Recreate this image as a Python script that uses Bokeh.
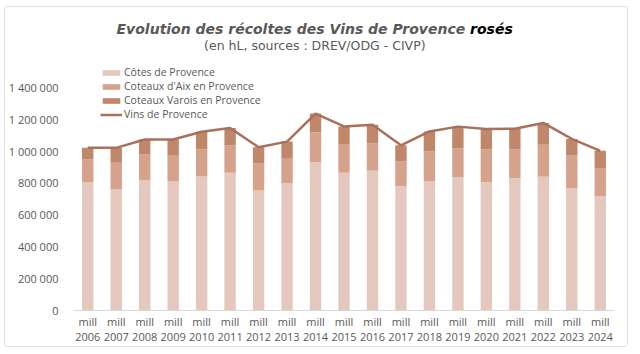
from bokeh.plotting import figure
from bokeh.models import Label, FixedTicker, Legend
from bokeh.embed import file_html
from bokeh.resources import INLINE

years = [str(y) for y in range(2006, 2025)]
categories = ["mill\n" + y for y in years]
cotes_de_provence = [806000, 762000, 816000, 810000, 841000, 864000, 752000, 799000, 930000, 864000,
                     877000, 779000, 812000, 835000, 804000, 830000, 839000, 768000, 718000]
coteaux_aix = [141000, 164000, 162000, 160000, 170000, 170000, 170000, 152000, 187000, 176000,
               172000, 157000, 185000, 182000, 207000, 179000, 200000, 204000, 175000]
coteaux_varois = [73000, 94000, 94000, 102000, 110000, 110000, 102000, 108000, 118000, 114000,
                  116000, 100000, 126000, 136000, 127000, 131000, 137000, 104000, 108000]
vins_de_provence = [1020000, 1020000, 1072000, 1072000, 1121000, 1144000, 1024000, 1059000, 1235000, 1154000,
                    1165000, 1036000, 1123000, 1153000, 1138000, 1140000, 1176000, 1076000, 1001000]
y_ticks = [0, 200000, 400000, 600000, 800000, 1000000, 1200000, 1400000]
y_tick_labels = ["0", "200 000", "400 000", "600 000", "800 000", "1 000 000", "1 200 000", "1 400 000"]
series_names = ["Côtes de Provence", "Coteaux d'Aix en Provence", "Coteaux Varois en Provence"]
line_name = "Vins de Provence"
title_main = "Evolution des récoltes des Vins de Provence "
title_bold = "rosés"
subtitle = "(en hL, sources : DREV/ODG - CIVP)"

FONT = "Open Sans"
TFONT = "DejaVu Sans"
GREY = "#595959"
colors = ["#e5c8bd", "#d5a38c", "#c0876b"]
line_color = "#a9705a"

TOP = 6      # frame top (page px)
BOTTOM = 311 # frame bottom (page px)
YMAX = 1900000

p = figure(x_range=categories, y_range=(0, YMAX), width=624, height=341,
           output_backend="svg", toolbar_location=None,
           min_border_left=62, min_border_right=15, min_border_top=0, min_border_bottom=38)
p.margin = (6, 0, 0, 4)
p.styles = {"border": "1px solid #dedede", "border-radius": "3px"}
p.outline_line_color = None
p.xgrid.grid_line_color = None
p.ygrid.grid_line_color = None
p.background_fill_color = "white"
p.border_fill_color = "white"

data = dict(x=categories, c=cotes_de_provence, a=coteaux_aix, v=coteaux_varois, t=vins_de_provence)
bars = p.vbar_stack(["c", "a", "v"], x="x", width=0.4, source=data, color=colors, line_color=None)
ln = p.line(x="x", y="t", source=data, line_color=line_color, line_width=2.5)

p.yaxis.ticker = FixedTicker(ticks=y_ticks)
p.yaxis.major_label_overrides = {t: l for t, l in zip(y_ticks, y_tick_labels)}
p.yaxis.axis_line_color = None
p.yaxis.major_tick_line_color = None
p.yaxis.minor_tick_line_color = None
p.yaxis.major_label_standoff = 9
p.yaxis.major_label_text_font = FONT
p.yaxis.major_label_text_font_size = "11px"
p.yaxis.major_label_text_color = GREY

p.xaxis.axis_line_color = "#d9d9d9"
p.xaxis.major_tick_line_color = None
p.xaxis.major_label_standoff = -3
p.xaxis.major_label_text_font = FONT
p.xaxis.major_label_text_font_size = "11px"
p.xaxis.major_label_text_color = GREY
p.xaxis.major_label_text_line_height = 1.0

items = [(series_names[i], [bars[i]]) for i in range(3)] + [(line_name, [ln])]
legend = Legend(items=items, location=(27, 189), orientation="vertical",
                glyph_width=22, glyph_height=7, label_height=14, spacing=0, padding=0, margin=0,
                label_standoff=2, label_text_font=FONT, label_text_font_size="10.5px",
                label_text_color=GREY, border_line_color=None, background_fill_alpha=0)
p.add_layout(legend)

def yv(ypx):
    return (BOTTOM - ypx) * YMAX / float(BOTTOM - TOP)

def xv(xpx):
    return (xpx - 67) * 19 / 547.0

p.add_layout(Label(x=xv(468), y=yv(28), text=title_main, text_align="right", text_baseline="middle",
                   text_font=TFONT, text_font_size="14px", text_font_style="bold italic", text_color=GREY))
p.add_layout(Label(x=xv(468), y=yv(28), text=title_bold, text_align="left", text_baseline="middle",
                   text_font=TFONT, text_font_size="14px", text_font_style="bold italic", text_color="black"))
p.add_layout(Label(x=xv(311), y=yv(44), text=subtitle, text_align="center", text_baseline="middle",
                   text_font=TFONT, text_font_size="12.5px", text_color=GREY))

open("out.html", "w").write(file_html(p, INLINE))
